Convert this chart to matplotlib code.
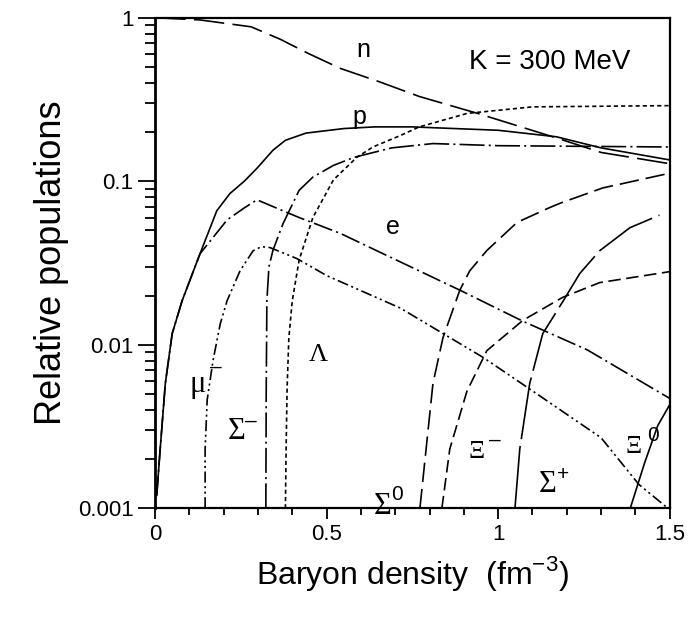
import numpy as np
import matplotlib
matplotlib.use('Agg')
import matplotlib.pyplot as plt
from matplotlib.ticker import FixedLocator, MultipleLocator, LogLocator, NullFormatter

plt.rcParams['font.family'] = ['Liberation Sans', 'DejaVu Sans']
plt.rcParams['lines.scale_dashes'] = False

# values: density (fm^-3) and relative population
n_x = [0.0, 0.13, 0.28, 0.364, 0.45, 0.54, 0.655, 0.77, 0.94, 1.17, 1.30, 1.5]
n_y = [1.0, 0.97, 0.88, 0.74, 0.60, 0.49, 0.405, 0.33, 0.26, 0.184, 0.15, 0.128]

p_x = [0.005, 0.015, 0.03, 0.05, 0.079, 0.131, 0.18, 0.218, 0.26, 0.297, 0.344, 0.38, 0.44, 0.55, 0.64, 0.75, 1.0, 1.17, 1.3, 1.5]
p_y = [0.0012, 0.0023, 0.0058, 0.0117, 0.0186, 0.036, 0.066, 0.084, 0.1, 0.12, 0.155, 0.178, 0.197, 0.21, 0.215, 0.215, 0.205, 0.187, 0.16, 0.135]

e_x = [0.005, 0.015, 0.03, 0.05, 0.079, 0.131, 0.21, 0.257, 0.297, 0.384, 0.42, 0.54, 0.69, 0.89, 1.07, 1.26, 1.5]
e_y = [0.0012, 0.0023, 0.0058, 0.0117, 0.0186, 0.036, 0.058, 0.068, 0.077, 0.0645, 0.06, 0.048, 0.034, 0.0215, 0.014, 0.0093, 0.0047]

mu_x = [0.146, 0.146, 0.152, 0.169, 0.19, 0.21, 0.248, 0.286, 0.31, 0.335, 0.413, 0.50, 0.714, 0.955, 1.09, 1.30, 1.41, 1.5]
mu_y = [0.001, 0.0023, 0.0046, 0.008, 0.0134, 0.0186, 0.0284, 0.0376, 0.0398, 0.0393, 0.0337, 0.0265, 0.0168, 0.0084, 0.0054, 0.0027, 0.0014, 0.00098]

lam_x = [0.38, 0.382, 0.385, 0.39, 0.40, 0.42, 0.46, 0.52, 0.588, 0.635, 0.714, 0.77, 0.91, 1.10, 1.5]
lam_y = [0.001, 0.0023, 0.0055, 0.011, 0.0186, 0.033, 0.06, 0.102, 0.14, 0.162, 0.19, 0.215, 0.26, 0.285, 0.29]

sm_x = [0.323, 0.324, 0.326, 0.332, 0.344, 0.373, 0.42, 0.46, 0.52, 0.58, 0.69, 0.81, 1.0, 1.5]
sm_y = [0.001, 0.005, 0.0186, 0.03, 0.038, 0.055, 0.088, 0.106, 0.125, 0.14, 0.16, 0.17, 0.165, 0.162]

s0_x = [0.772, 0.79, 0.81, 0.839, 0.888, 0.917, 0.967, 1.055, 1.15, 1.185, 1.305, 1.5]
s0_y = [0.001, 0.0023, 0.0058, 0.011, 0.0215, 0.0283, 0.0377, 0.056, 0.069, 0.074, 0.091, 0.112]

xm_x = [0.836, 0.859, 0.909, 0.967, 1.072, 1.188, 1.296, 1.5]
xm_y = [0.001, 0.0023, 0.0052, 0.0092, 0.0141, 0.0195, 0.024, 0.028]

sp_x = [1.049, 1.063, 1.092, 1.13, 1.19, 1.238, 1.296, 1.384, 1.47]
sp_y = [0.001, 0.0023, 0.0058, 0.0117, 0.0186, 0.0273, 0.0376, 0.052, 0.062]

x0_x = [1.385, 1.407, 1.427, 1.465, 1.5]
x0_y = [0.001, 0.0014, 0.0019, 0.0032, 0.0043]

fig = plt.figure(figsize=(6.89, 6.33), dpi=100)
ax = fig.add_axes([0.225, 0.197, 0.747, 0.775])

lw = 1.2
ax.plot(n_x, n_y, color='black', lw=lw, linestyle=(0, (22, 6)))
ax.plot(p_x, p_y, color='black', lw=lw, linestyle='-')
ax.plot(e_x, e_y, color='black', lw=lw, linestyle=(0, (14, 3, 1.5, 3)))
ax.plot(mu_x, mu_y, color='black', lw=lw, linestyle=(0, (8, 2.5, 1.5, 2.5, 1.5, 2.5)))
ax.plot(lam_x, lam_y, color='black', lw=lw, linestyle=(0, (3, 2.2)))
ax.plot(sm_x, sm_y, color='black', lw=lw, linestyle=(0, (18, 3, 1.5, 3)))
ax.plot(s0_x, s0_y, color='black', lw=lw, linestyle=(0, (14, 5)))
ax.plot(xm_x, xm_y, color='black', lw=lw, linestyle=(0, (9, 4)))
ax.plot(sp_x, sp_y, color='black', lw=lw, linestyle=(0, (45, 5)))
ax.plot(x0_x, x0_y, color='black', lw=lw, linestyle='-')

ax.set_yscale('log')
ax.set_xlim(0, 1.5)
ax.set_ylim(0.001, 1)
ax.xaxis.set_major_locator(FixedLocator([0, 0.5, 1, 1.5]))
ax.xaxis.set_minor_locator(MultipleLocator(0.1))
ax.set_xticklabels(['0', '0.5', '1', '1.5'])
ax.yaxis.set_major_locator(FixedLocator([0.001, 0.01, 0.1, 1]))
ax.yaxis.set_minor_locator(LogLocator(base=10, subs=np.arange(2, 10)))
ax.yaxis.set_minor_formatter(NullFormatter())
ax.set_yticklabels(['0.001', '0.01', '0.1', '1'])

ax.tick_params(which='both', direction='out', labelsize=16, width=1.3, top=False, right=False)
ax.tick_params(axis='y', which='major', length=12)
ax.tick_params(axis='y', which='minor', length=7)
ax.tick_params(axis='x', which='minor', length=5)
ax.tick_params(axis='x', which='major', length=8)
for s in ax.spines.values():
    s.set_linewidth(1.6)
ax.spines['left'].set_linewidth(2)

ax.set_xlabel('Baryon density  (fm$^{\\mathregular{-3}}$)', fontsize=23, labelpad=6)
ax.set_ylabel('Relative populations', fontsize=26, labelpad=6)

ax.text(0.606, 0.637, 'n', fontsize=18, ha='center', va='center')
ax.text(0.597, 0.248, 'p', fontsize=18, ha='center', va='center')
ax.text(0.693, 0.0525, 'e', fontsize=18, ha='center', va='center')
ax.text(1.15, 0.538, 'K = 300 MeV', fontsize=20, ha='center', va='center')

serif = 'Liberation Serif'


def greek(x, y, letter, sup, sx, sy, size=22):
    ax.text(x, y, letter, fontsize=size, family=serif, ha='center', va='center')
    ax.text(sx, sy, sup, fontsize=15, ha='center', va='center')


greek(0.125, 0.0057, '\u03bc', '\u2013', 0.178, 0.0073)
greek(0.239, 0.00293, '\u03a3', '\u2013', 0.28, 0.0034)
greek(0.664, 0.00103, '\u03a3', '0', 0.705, 0.00122)
greek(0.936, 0.00222, '\u039e', '\u2013', 0.99, 0.0026, size=18)
greek(1.145, 0.00139, '\u03a3', '+', 1.188, 0.0016)
greek(1.395, 0.00238, '\u039e', '0', 1.452, 0.0028, size=18)
ax.text(0.475, 0.0087, '\u039b', fontsize=19, family=serif, ha='center', va='center')

fig.savefig('out.png', dpi=100)
